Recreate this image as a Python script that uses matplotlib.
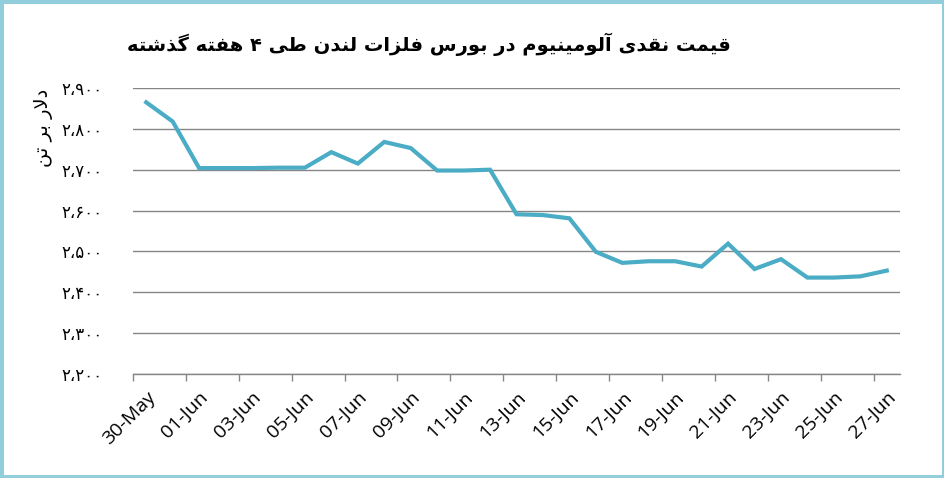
import matplotlib
matplotlib.use("Agg")
import matplotlib.pyplot as plt
from matplotlib.patches import Rectangle
from matplotlib.ticker import FixedLocator

# shaping table for the Persian letters used: (isolated, final, initial, medial)
FORMS = {
    'ا': ('\uFE8D', '\uFE8E', None, None),
    'آ': ('\uFE81', '\uFE82', None, None),
    'د': ('\uFEA9', '\uFEAA', None, None),
    'ذ': ('\uFEAB', '\uFEAC', None, None),
    'ر': ('\uFEAD', '\uFEAE', None, None),
    'ز': ('\uFEAF', '\uFEB0', None, None),
    'و': ('\uFEED', '\uFEEE', None, None),
    'ب': ('\uFE8F', '\uFE90', '\uFE91', '\uFE92'),
    'ت': ('\uFE95', '\uFE96', '\uFE97', '\uFE98'),
    'س': ('\uFEB1', '\uFEB2', '\uFEB3', '\uFEB4'),
    'ش': ('\uFEB5', '\uFEB6', '\uFEB7', '\uFEB8'),
    'ط': ('\uFEC1', '\uFEC2', '\uFEC3', '\uFEC4'),
    'ف': ('\uFED1', '\uFED2', '\uFED3', '\uFED4'),
    'ق': ('\uFED5', '\uFED6', '\uFED7', '\uFED8'),
    'ل': ('\uFEDD', '\uFEDE', '\uFEDF', '\uFEE0'),
    'م': ('\uFEE1', '\uFEE2', '\uFEE3', '\uFEE4'),
    'ن': ('\uFEE5', '\uFEE6', '\uFEE7', '\uFEE8'),
    'ه': ('\uFEE9', '\uFEEA', '\uFEEB', '\uFEEC'),
    'ی': ('\uFBFC', '\uFBFD', '\uFBFE', '\uFBFF'),
    'گ': ('\uFB92', '\uFB93', '\uFB94', '\uFB95'),
}


def shape(text):
    chars = list(text)
    out = []
    i = 0
    while i < len(chars):
        c = chars[i]
        if c not in FORMS:
            out.append(c)
            i += 1
            continue
        prev = chars[i - 1] if i > 0 else None
        joins_prev = prev in FORMS and FORMS[prev][2] is not None
        # lam + alef ligature
        if c == 'ل' and i + 1 < len(chars) and chars[i + 1] == 'ا':
            out.append('\uFEFC' if joins_prev else '\uFEFB')
            i += 2
            continue
        nxt = chars[i + 1] if i + 1 < len(chars) else None
        joins_next = FORMS[c][2] is not None and nxt in FORMS
        iso, fin, ini, med = FORMS[c]
        if joins_prev and joins_next:
            out.append(med)
        elif joins_prev:
            out.append(fin)
        elif joins_next:
            out.append(ini)
        else:
            out.append(iso)
        i += 1
    return ''.join(out[::-1])


title = 'قیمت نقدی آلومینیوم در بورس فلزات لندن طی ۴ هفته گذشته'
ylabel = 'دلار بر تن'

dates = ['30-May', '31-May', '01-Jun', '02-Jun', '03-Jun', '04-Jun', '05-Jun',
         '06-Jun', '07-Jun', '08-Jun', '09-Jun', '10-Jun', '11-Jun', '12-Jun',
         '13-Jun', '14-Jun', '15-Jun', '16-Jun', '17-Jun', '18-Jun', '19-Jun',
         '20-Jun', '21-Jun', '22-Jun', '23-Jun', '24-Jun', '25-Jun', '26-Jun',
         '27-Jun']
prices = [2865, 2818, 2704, 2704, 2704, 2705, 2705, 2743, 2715, 2768, 2753,
          2698, 2698, 2700, 2591, 2589, 2581, 2499, 2472, 2476, 2476, 2463,
          2519, 2457, 2481, 2436, 2436, 2439, 2453]

yticks = [2200, 2300, 2400, 2500, 2600, 2700, 2800, 2900]
ytick_labels = ['۲،۲۰۰', '۲،۳۰۰', '۲،۴۰۰', '۲،۵۰۰', '۲،۶۰۰', '۲،۷۰۰', '۲،۸۰۰', '۲،۹۰۰']

fig = plt.figure(figsize=(9.45, 4.78), dpi=100)
ax = fig.add_axes([133 / 945, 1 - 374 / 478, 767 / 945, 286 / 478])

x = list(range(len(dates)))
ax.plot(x, prices, color='#4BACC6', linewidth=3, solid_joinstyle='miter')

ax.set_xlim(-0.5, len(dates) - 0.5)
ax.set_ylim(2200, 2900)

ax.set_yticks(yticks)
ax.set_yticklabels(ytick_labels, family='DejaVu Sans', fontsize=12)
ax.tick_params(axis='y', length=0, pad=22)
ax.yaxis.grid(True, color='#868686', linewidth=1)
ax.set_axisbelow(True)

ax.set_xticks(x[::2])
ax.set_xticklabels(dates[::2], rotation=45, ha='right', va='top',
                   rotation_mode='anchor', family='Open Sans', fontsize=14)
ax.tick_params(axis='x', which='major', length=0, pad=10)
ax.xaxis.set_minor_locator(FixedLocator([v - 0.5 for v in x[::2]]))
ax.tick_params(axis='x', which='minor', length=5, color='#868686', width=1)

for s in ['top', 'right', 'left']:
    ax.spines[s].set_visible(False)
ax.spines['bottom'].set_color('#868686')
ax.spines['bottom'].set_linewidth(1)

fig.text(429 / 945, 1 - 44 / 478, shape(title), ha='center', va='center',
         family='DejaVu Sans', fontweight='bold', fontsize=14)
fig.text(44 / 945, 1 - 128 / 478, shape(ylabel), ha='center', va='center',
         rotation=90, family='DejaVu Sans', fontsize=14)

fig.patches.append(Rectangle((0, 0), 1, 1, transform=fig.transFigure,
                             fill=False, edgecolor='#92CDDC', linewidth=5))

fig.savefig('out.png', dpi=100)
